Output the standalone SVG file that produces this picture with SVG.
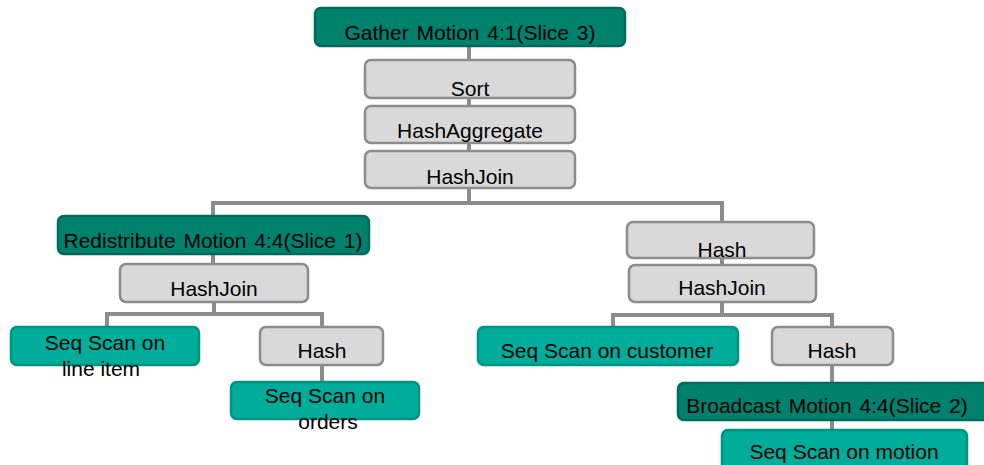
<svg xmlns="http://www.w3.org/2000/svg" width="984" height="465" viewBox="0 0 984 465">
  <style>
    .motion { fill: #00816e; stroke: #006b5b; stroke-width: 2.5; }
    .scan { fill: #00ad9a; stroke: #009482; stroke-width: 2.5; }
    .op { fill: #d9d9d9; stroke: #8c8c8c; stroke-width: 2.5; }
    text { font-family: "Liberation Sans", Arial, sans-serif; font-size: 21px; fill: #000; text-anchor: middle; }
    .big { word-spacing: 2px; }
    .wire { fill: none; stroke: #8c8c8c; stroke-width: 4; }
  </style>
  <rect width="984" height="465" fill="#ffffff"/>

  <!-- connectors -->
  <g id="connectors">
    <path class="wire" d="M469 46 V203"/>
    <path class="wire" d="M213 216 V203 H722 V222"/>
    <path class="wire" d="M213 254 V264"/>
    <path class="wire" d="M214 302 V314 M107 327 V314 H322 V327"/>
    <path class="wire" d="M322 365 V382"/>
    <path class="wire" d="M722 258 V265"/>
    <path class="wire" d="M722 302 V315 M613 327 V315 H832 V327"/>
    <path class="wire" d="M832 365 V383"/>
    <path class="wire" d="M832 420 V430"/>
  </g>

  <g id="gather">
    <rect class="motion" x="315" y="8" width="310" height="38" rx="6"/>
    <text class="big" x="470" y="40">Gather Motion 4:1(Slice 3)</text>
  </g>
  <g id="sort">
    <rect class="op" x="365" y="60" width="210" height="38" rx="6"/>
    <text x="470" y="96">Sort</text>
  </g>
  <g id="hashaggregate">
    <rect class="op" x="365" y="106" width="210" height="37" rx="6"/>
    <text x="470" y="138">HashAggregate</text>
  </g>
  <g id="hashjoin-top">
    <rect class="op" x="365" y="151" width="210" height="37" rx="6"/>
    <text x="470" y="184">HashJoin</text>
  </g>

  <g id="redistribute">
    <rect class="motion" x="58" y="216" width="311" height="38" rx="6"/>
    <text class="big" x="213" y="248">Redistribute Motion 4:4(Slice 1)</text>
  </g>
  <g id="hashjoin-left">
    <rect class="op" x="120" y="264" width="188" height="38" rx="6"/>
    <text x="214" y="296">HashJoin</text>
  </g>
  <g id="scan-lineitem">
    <rect class="scan" x="11" y="327" width="188" height="38" rx="6"/>
    <text x="105" y="350">Seq Scan on</text>
    <text x="101" y="376">line item</text>
  </g>
  <g id="hash-left">
    <rect class="op" x="260" y="327" width="123" height="38" rx="6"/>
    <text x="322" y="358">Hash</text>
  </g>
  <g id="scan-orders">
    <rect class="scan" x="231" y="382" width="188" height="37" rx="6"/>
    <text x="325" y="403">Seq Scan on</text>
    <text x="328" y="429">orders</text>
  </g>

  <g id="hash-right">
    <rect class="op" x="627" y="222" width="187" height="36" rx="6"/>
    <text x="722" y="257">Hash</text>
  </g>
  <g id="hashjoin-right">
    <rect class="op" x="629" y="265" width="187" height="37" rx="6"/>
    <text x="722" y="295">HashJoin</text>
  </g>
  <g id="scan-customer">
    <rect class="scan" x="478" y="327" width="260" height="38" rx="6"/>
    <text x="607" y="358">Seq Scan on customer</text>
  </g>
  <g id="hash-lower">
    <rect class="op" x="772" y="327" width="121" height="38" rx="6"/>
    <text x="832" y="358">Hash</text>
  </g>
  <g id="broadcast">
    <rect class="motion" x="678" y="383" width="320" height="37" rx="6"/>
    <text class="big" x="827" y="413">Broadcast Motion 4:4(Slice 2)</text>
  </g>
  <g id="scan-motion">
    <rect class="scan" x="722" y="430" width="245" height="45" rx="6"/>
    <text x="844" y="459">Seq Scan on motion</text>
  </g>
</svg>
